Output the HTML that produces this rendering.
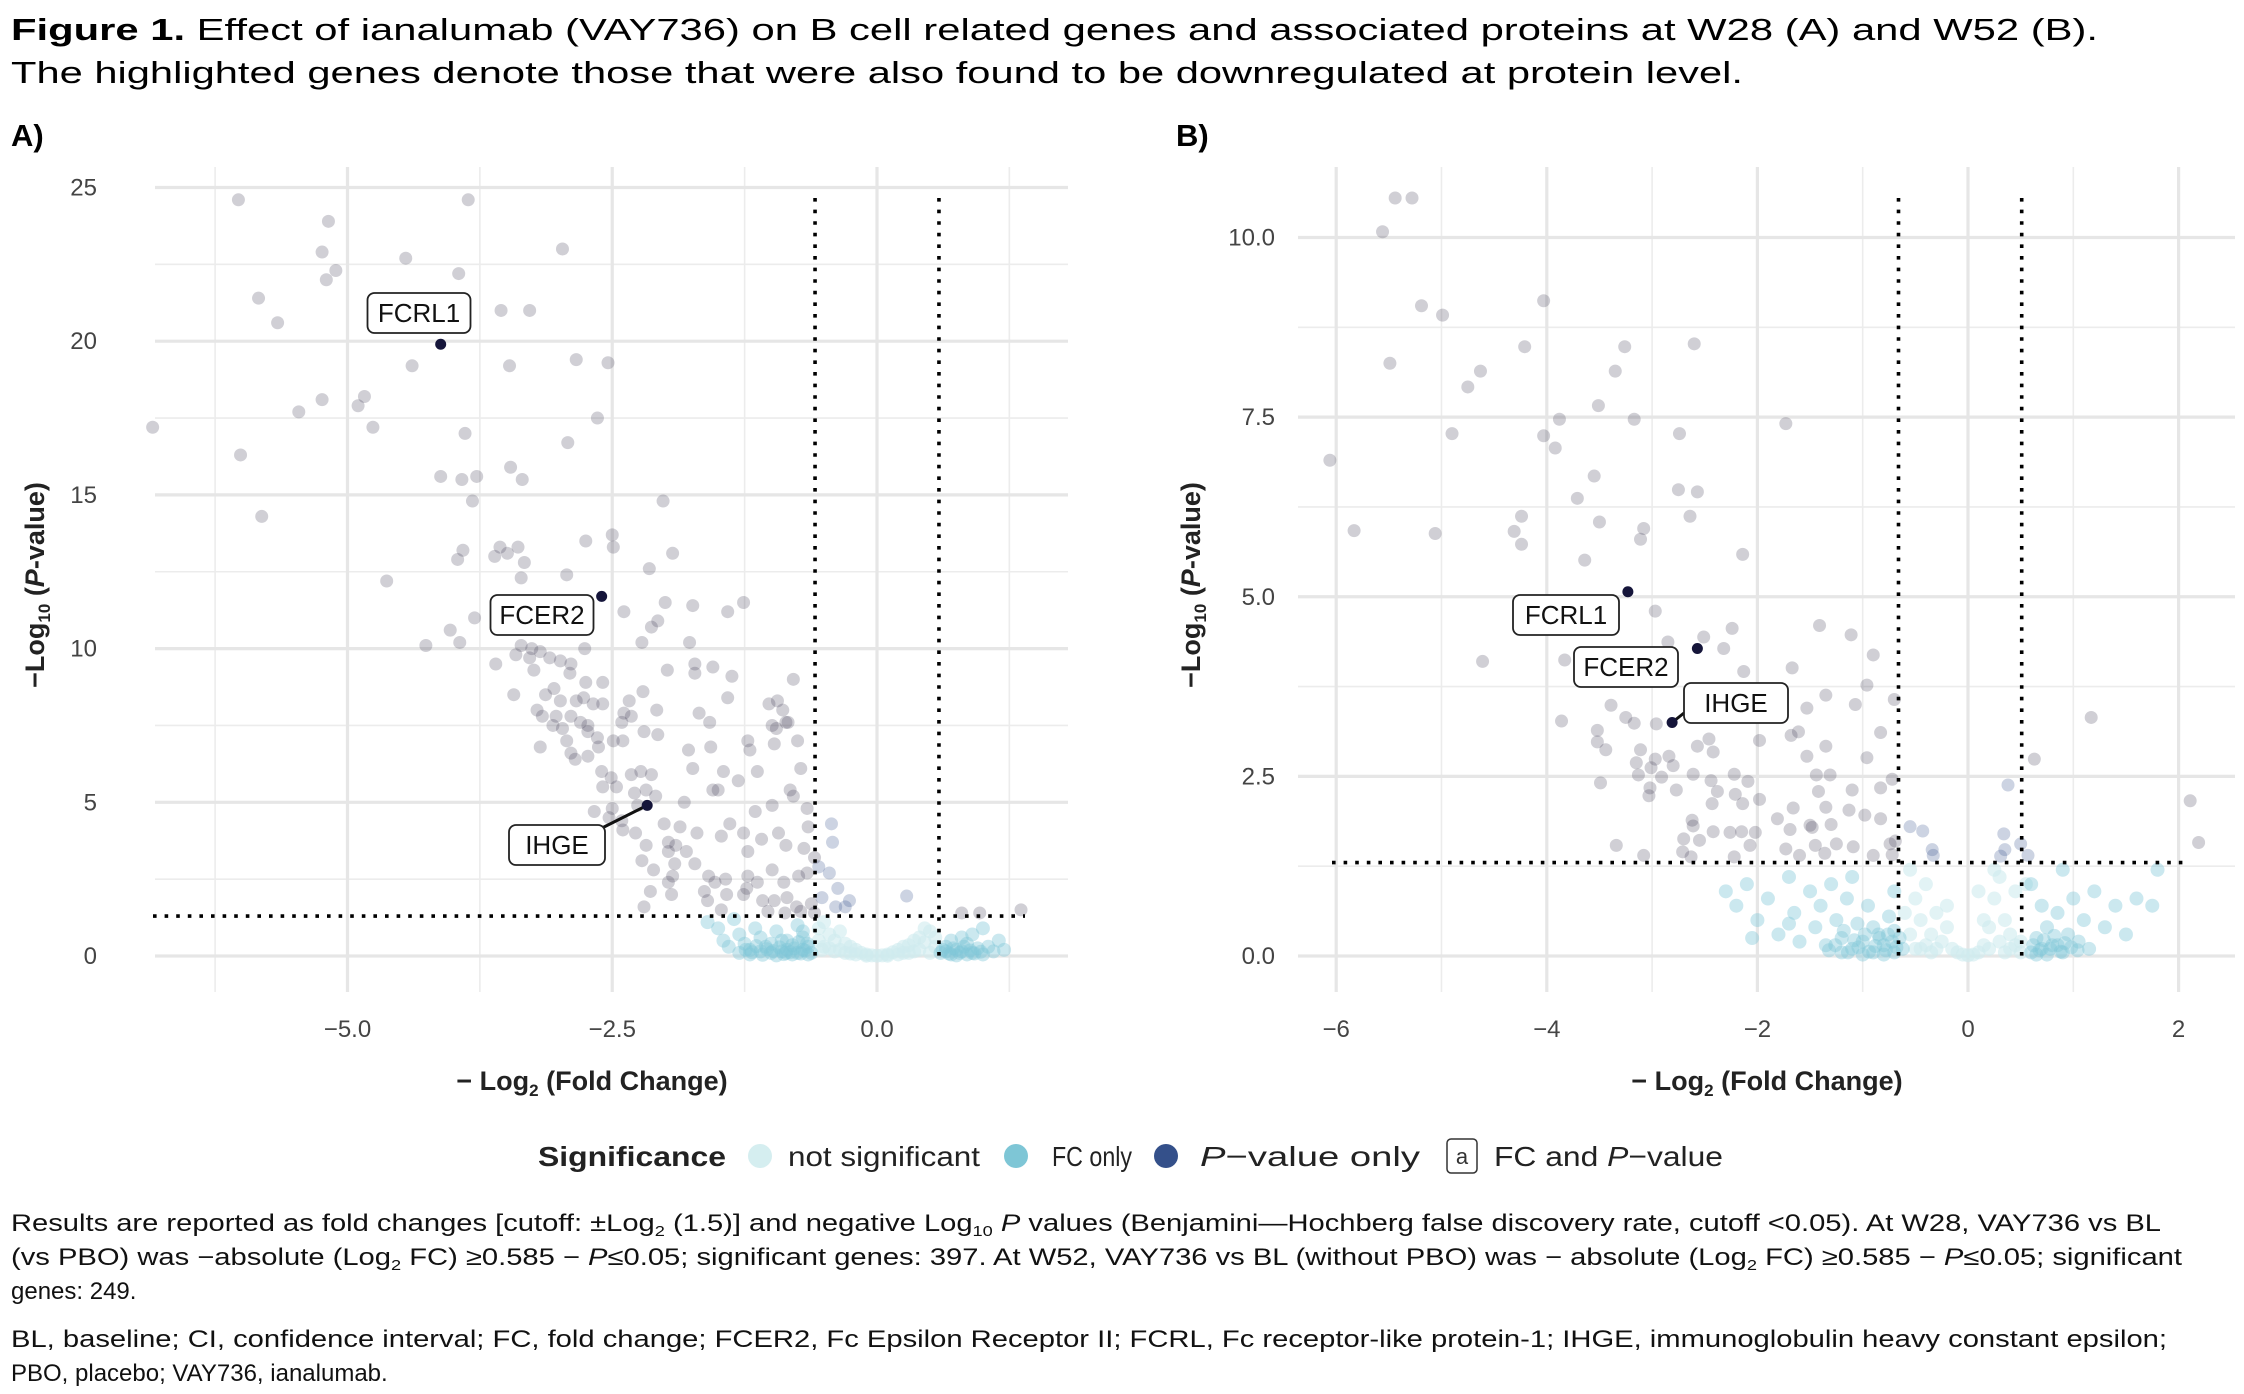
<!DOCTYPE html>
<html><head><meta charset="utf-8"><style>
html,body{margin:0;padding:0;background:#fff;}
svg{display:block;font-family:"Liberation Sans",Arial,sans-serif;}
</style></head><body>
<svg id="fig" width="2244" height="1394" viewBox="0 0 2244 1394" xmlns="http://www.w3.org/2000/svg">
<g>
<text x="11" y="40" font-size="31" textLength="2087" lengthAdjust="spacingAndGlyphs"><tspan font-weight="bold">Figure 1.</tspan> Effect of ianalumab (VAY736) on B cell related genes and associated proteins at W28 (A) and W52 (B).</text>
<text x="11" y="83" font-size="31" textLength="1732" lengthAdjust="spacingAndGlyphs">The highlighted genes denote those that were also found to be downregulated at protein level.</text>
</g>
<text x="11" y="146" font-size="31" font-weight="bold">A)</text>
<text x="1176" y="146" font-size="31" font-weight="bold">B)</text>
<g id="panelA"></g>
<g id="panelB"></g>
<g>
<text x="538" y="1166" font-size="28" font-weight="bold" fill="#222" textLength="188" lengthAdjust="spacingAndGlyphs">Significance</text>
<circle cx="760" cy="1156" r="12" fill="#d5eef0"/>
<text x="788" y="1166" font-size="28" fill="#222" textLength="192" lengthAdjust="spacingAndGlyphs">not significant</text>
<circle cx="1016" cy="1156" r="12" fill="#7ec6d6"/>
<text x="1052" y="1166" font-size="28" fill="#222" textLength="80" lengthAdjust="spacingAndGlyphs">FC only</text>
<circle cx="1166" cy="1156" r="12" fill="#34508a"/>
<text x="1200" y="1166" font-size="28" fill="#222" textLength="220" lengthAdjust="spacingAndGlyphs"><tspan font-style="italic">P</tspan>−value only</text>
<rect x="1447" y="1139" width="30" height="34" rx="4" fill="#fff" stroke="#333" stroke-width="1.5"/>
<text x="1462" y="1164" font-size="22" text-anchor="middle" fill="#333">a</text>
<text x="1494" y="1166" font-size="28" fill="#222" textLength="229" lengthAdjust="spacingAndGlyphs">FC and <tspan font-style="italic">P</tspan>−value</text>
</g>
<g font-size="24" fill="#111">
<text x="11" y="1231" textLength="2150" lengthAdjust="spacingAndGlyphs">Results are reported as fold changes [cutoff: ±Log<tspan font-size="15" dy="5">2</tspan><tspan dy="-5"> (1.5)] and negative Log</tspan><tspan font-size="15" dy="5">10</tspan><tspan dy="-5"> </tspan><tspan font-style="italic">P</tspan> values (Benjamini—Hochberg false discovery rate, cutoff &lt;0.05). At W28, VAY736 vs BL</text>
<text x="11" y="1265" textLength="2171" lengthAdjust="spacingAndGlyphs">(vs PBO) was −absolute (Log<tspan font-size="15" dy="5">2</tspan><tspan dy="-5"> FC) ≥0.585 − </tspan><tspan font-style="italic">P</tspan>≤0.05; significant genes: 397. At W52, VAY736 vs BL (without PBO) was − absolute (Log<tspan font-size="15" dy="5">2</tspan><tspan dy="-5"> FC) ≥0.585 − </tspan><tspan font-style="italic">P</tspan>≤0.05; significant</text>
<text x="11" y="1299">genes: 249.</text>
<text x="11" y="1347" textLength="2156" lengthAdjust="spacingAndGlyphs">BL, baseline; CI, confidence interval; FC, fold change; FCER2, Fc Epsilon Receptor II; FCRL, Fc receptor-like protein-1; IHGE, immunoglobulin heavy constant epsilon;</text>
<text x="11" y="1381">PBO, placebo; VAY736, ianalumab.</text>
</g>
</svg>
<script>
// ---------- Panel A data (W28) ----------
const aSigX = [-6.03,-3.86,-5.18,-5.24,-4.45,-2.97,-5.11,-5.20,-3.95,-5.84,-3.55,-3.28,-5.66,-2.84,-2.54,-4.39,-3.47,-5.24,-4.84,-4.90,-5.46,-6.84,-4.76,-2.64,-3.89,-2.92,-6.01,-4.12,-3.78,-3.92,-3.46,-3.35,-3.82,-2.02,-5.81,-2.50,-2.75,-3.56,-3.91,-3.39,-2.49,-3.49,-3.61,-1.93,-3.96,-3.33,-2.15,-2.93,-3.36,-4.63,-1.74,-2.39,-2.00,-1.26,-1.41,-4.03,-2.07,-2.13,-3.80,-1.77,-3.94,-4.26,-2.76,-2.22,-3.36,-3.26,-3.18,-3.41,-3.28,-3.09,-2.99,-2.89,-3.60,-1.72,-1.55,-1.98,-0.79,-1.37,-1.72,-3.24,-2.90,-2.75,-2.59,-3.05,-3.13,-2.21,-2.34,-2.32,-3.43,-2.99,-2.84,-2.77,-2.68,-2.59,-1.41,-1.02,-0.94,-0.89,-0.84,-3.21,-3.03,-2.89,-2.80,-2.73,-1.68,-2.08,-2.39,-2.41,-2.40,-3.06,-3.16,-2.97,-2.73,-2.64,-2.20,-2.07,-1.58,-0.99,-0.95,-0.86,-2.49,-2.63,-3.18,-2.93,-2.89,-2.85,-2.73,-1.78,-1.57,-1.22,-1.20,-0.97,-0.75,-0.72,-1.13,-1.45,-1.31,-2.32,-2.23,-2.13,-2.60,-2.51,-2.59,-2.46,-2.29,-2.09,-2.18,-1.74,-1.55,-1.50,-0.82,-0.79,-1.15,-0.99,-0.66,-0.65,-2.67,-2.50,-2.53,-2.41,-2.26,-1.82,-2.01,-1.86,-2.40,-2.28,-1.97,-1.90,-1.70,-2.18,-1.97,-1.80,-1.47,-1.39,-1.26,-1.22,-1.09,-0.93,-0.86,-0.69,-0.59,-2.22,-2.11,-1.97,-1.93,-1.91,-1.72,-1.59,-1.53,-1.63,-1.43,-1.22,-1.13,-0.99,-0.88,-0.74,-0.66,-2.14,-1.94,-1.60,-1.42,-1.26,-1.23,-1.08,-0.97,-0.85,-0.76,-0.62,-2.20,-1.47,-1.03,-0.87,-0.72,-0.59,0.80,0.97,1.36];
const aSigY = [24.6,24.6,23.9,22.9,22.7,23.0,22.3,22.0,22.2,21.4,21.0,21.0,20.6,19.4,19.3,19.2,19.2,18.1,18.2,17.9,17.7,17.2,17.2,17.5,17.0,16.7,16.3,15.6,15.6,15.5,15.9,15.5,14.8,14.8,14.3,13.7,13.5,13.3,13.2,13.3,13.3,13.1,13.0,13.1,12.9,12.8,12.6,12.4,12.3,12.2,11.4,11.2,11.5,11.5,11.2,10.6,10.9,10.7,11.0,10.2,10.2,10.1,10.0,10.2,10.1,10.0,9.9,9.8,9.7,9.7,9.6,9.5,9.5,9.5,9.4,9.3,9.0,9.1,9.2,9.3,9.2,8.9,8.9,8.7,8.5,8.6,8.3,7.8,8.5,8.3,8.3,8.4,8.2,8.2,8.4,8.2,8.3,8.0,7.6,8.0,7.8,7.8,7.6,7.5,7.9,8.0,7.9,7.6,7.0,7.5,7.8,7.4,7.3,7.1,7.3,7.2,7.6,7.5,7.4,7.6,7.0,6.8,6.8,7.0,6.6,6.4,6.5,6.7,6.8,7.0,6.7,6.9,7.0,6.1,6.0,6.0,5.7,5.9,6.0,5.9,6.0,5.8,5.5,5.5,5.3,5.2,5.4,6.1,5.4,5.4,5.4,5.2,4.7,4.9,4.8,4.2,4.7,4.8,4.5,4.4,4.9,5.0,4.3,4.2,4.1,4.0,3.7,3.6,4.0,3.6,3.4,3.4,3.9,4.3,4.0,3.4,3.8,4.0,3.6,3.5,3.2,3.1,2.8,2.4,2.6,3.0,3.0,2.6,2.4,2.1,2.5,2.6,2.4,2.8,2.4,2.6,2.7,2.1,2.0,1.8,2.0,2.0,2.2,1.8,1.8,1.9,1.6,1.7,1.6,1.5,1.45,1.4,1.45,1.4,1.4,1.4,1.5];
const aPvX = [-0.43,-0.42,-0.55,-0.45,-0.37,-0.26,-0.52,-0.39,-0.30,0.28];
const aPvY = [4.3,3.7,2.9,2.7,2.2,1.8,1.9,1.6,1.6,1.95];
const aNsX = [-0.55,-0.5,-0.45,-0.4,-0.35,-0.3,-0.25,-0.2,-0.15,-0.1,-0.05,0,0.05,0.1,0.15,0.2,0.25,0.3,0.35,0.4,0.45,0.5,0.55,-0.5,-0.4,-0.3,0.3,0.4,0.5,-0.55,-0.52,0.2,-0.2,0.45,-0.35,0.35,-0.45,-0.25,0.25,0.55,-0.1,0.1];
const aNsY = [0.9,1.1,0.7,0.5,0.8,0.4,0.3,0.2,0.1,0.05,0.02,0.01,0.02,0.05,0.12,0.2,0.3,0.35,0.5,0.6,0.45,0.8,0.3,0.3,0.15,0.1,0.1,0.2,0.1,0.5,0.2,0.05,0.05,0.9,0.2,0.15,0.25,0.08,0.1,0.6,0.01,0.01];
const aFcX = [-1.6,-1.5,-1.45,-1.4,-1.35,-1.3,-1.25,-1.2,-1.15,-1.1,-1.05,-1.0,-0.95,-0.9,-0.85,-0.8,-0.75,-0.7,-0.65,-0.62,-1.2,-1.0,-0.9,-0.8,-0.7,-0.65,-1.1,-0.75,-1.3,-0.95,-0.85,-0.7,-0.68,-0.72,-0.78,-0.82,-0.88,-0.92,-0.98,-1.04,-1.08,-1.14,-1.18,-1.24,-0.66,-0.74,-0.86,0.6,0.65,0.7,0.75,0.8,0.85,0.9,0.95,1.0,1.05,1.1,1.15,0.7,0.8,0.9,1.0,1.2,0.65,0.75,0.85,0.62,0.68,0.72,0.78,0.82,0.88,0.92,0.98];
const aFcY = [1.1,0.9,0.5,0.3,1.2,0.7,0.4,0.2,0.9,0.6,0.3,0.1,0.8,0.5,0.2,0.05,1.0,0.6,0.3,0.1,0.05,0.4,0.15,0.35,0.2,0.05,0.15,0.1,0.1,0.02,0.5,0.8,0.18,0.08,0.25,0.12,0.06,0.28,0.16,0.22,0.04,0.32,0.12,0.2,0.4,0.45,0.1,0.1,0.3,0.05,0.2,0.15,0.4,0.1,0.25,0.05,0.3,0.15,0.5,0.5,0.6,0.7,0.9,0.2,0.15,0.02,0.05,0.2,0.08,0.25,0.1,0.3,0.18,0.08,0.14];
const aHiNames = ["FCRL1","FCER2","IHGE"];
const aHiX = [-4.12,-2.60,-2.17];
const aHiY = [19.9,11.7,4.9];
const aXTicks = [-5.0,-2.5,0.0];
const aXTickLabels = ["−5.0","−2.5","0.0"];
const aYTicks = [0,5,10,15,20,25];
const aYTickLabels = ["0","5","10","15","20","25"];

// ---------- Panel B data (W52) ----------
const bSigX = [-5.44,-5.28,-5.56,-5.19,-4.99,-4.03,-5.49,-4.21,-3.26,-2.60,-3.35,-4.63,-4.75,-3.51,-3.88,-3.17,-1.73,-4.90,-4.03,-2.74,-3.92,-6.06,-3.55,-3.71,-2.75,-2.57,-2.64,-4.24,-3.50,-5.83,-4.31,-5.06,-3.08,-3.11,-4.24,-2.14,-3.64,-2.97,-1.41,-2.24,-2.51,-1.11,-2.85,-2.32,-0.90,-4.61,-3.83,-1.67,-2.13,-0.96,-1.35,-0.70,-1.07,-1.53,-3.39,-3.25,1.17,-3.86,-3.17,-2.96,-1.61,-3.52,-0.83,-1.68,-2.46,-1.98,-3.52,-1.35,-3.44,-3.11,-2.57,-2.42,-1.53,0.63,-0.96,-2.97,-2.84,-3.15,-3.01,-2.80,-3.13,-2.91,-2.61,-1.44,-1.31,-2.22,-2.09,-2.44,-0.72,-3.49,-3.02,-2.77,-2.38,-0.83,-1.10,-1.42,-2.21,-3.03,-1.98,2.11,-2.43,-2.14,-1.66,-1.35,-1.13,-0.98,-0.83,-1.81,-1.50,-1.48,-1.30,-2.62,-2.61,-2.42,-2.26,-2.15,-2.02,-1.69,-0.69,2.19,-0.74,-2.70,-2.55,-3.34,-2.07,-1.73,-1.45,-1.25,-1.09,-3.08,-2.71,-2.63,-2.22,-1.60,-1.36,-0.72,-0.90];
const bSigY = [10.55,10.55,10.08,9.05,8.92,9.12,8.25,8.48,8.48,8.52,8.14,8.14,7.92,7.66,7.47,7.47,7.41,7.27,7.24,7.27,7.07,6.90,6.68,6.37,6.49,6.46,6.12,6.12,6.04,5.92,5.91,5.88,5.95,5.80,5.73,5.59,5.51,4.80,4.60,4.56,4.44,4.47,4.37,4.28,4.19,4.10,4.12,4.01,3.96,3.77,3.63,3.57,3.50,3.45,3.49,3.32,3.32,3.27,3.24,3.23,3.12,3.14,3.11,3.07,3.02,3.00,2.98,2.92,2.87,2.87,2.92,2.84,2.78,2.74,2.76,2.74,2.78,2.69,2.62,2.65,2.52,2.49,2.53,2.52,2.52,2.53,2.43,2.44,2.46,2.41,2.34,2.31,2.29,2.34,2.31,2.29,2.25,2.23,2.18,2.16,2.12,2.12,2.06,2.07,2.03,1.96,1.91,1.91,1.82,1.79,1.83,1.89,1.81,1.73,1.72,1.73,1.72,1.76,1.60,1.58,1.56,1.63,1.61,1.54,1.54,1.49,1.54,1.56,1.52,1.40,1.45,1.38,1.38,1.40,1.43,1.41,1.40];
const bPvX = [-0.55,-0.43,0.34,0.50,-0.34,-0.33,0.35,0.31,0.57,0.38];
const bPvY = [1.80,1.74,1.70,1.56,1.48,1.40,1.48,1.39,1.40,2.38];
const bNsX = [-0.55,-0.5,-0.45,-0.4,-0.35,-0.3,-0.25,-0.2,-0.15,-0.1,0,0.1,0.15,0.2,0.25,0.3,0.35,0.4,0.45,0.5,0.55,-0.55,-0.5,0.5,0.4,-0.4,0.3,-0.3,0.2,0.05,-0.05,0.15,-0.2,0.1,0.25,-0.6,-0.45,0.45,-0.35,0.35];
const bNsY = [1.2,0.8,0.5,1.0,0.3,0.6,0.2,0.4,0.1,0.05,0.01,0.05,0.15,0.4,0.8,1.1,0.5,0.3,0.9,0.2,1.0,0.3,0.1,0.05,0.1,0.15,0.2,0.1,0.1,0.02,0.02,0.5,0.7,0.9,1.2,0.6,0.1,0.15,0.05,0.05];
const bFcX = [-2.3,-2.2,-2.1,-2.0,-1.9,-1.8,-1.7,-1.65,-1.6,-1.5,-1.45,-1.4,-1.35,-1.3,-1.25,-1.2,-1.15,-1.1,-1.05,-1.0,-0.95,-0.9,-0.85,-0.8,-0.75,-0.7,-0.65,-0.62,-1.0,-0.8,-1.2,-0.9,-0.7,-1.1,-1.7,-2.05,-0.68,-0.72,-0.78,-0.84,-0.88,-0.94,-0.98,-1.04,-1.08,-1.14,-1.18,-1.26,-1.32,-0.7,-0.76,0.6,0.65,0.7,0.75,0.8,0.85,0.9,0.95,1.0,1.05,1.1,1.15,1.2,1.3,1.4,1.5,1.6,1.75,1.8,0.7,0.6,0.9,0.65,0.75,0.85,0.62,0.68,0.72,0.78,0.82,0.88,0.92,0.98,1.04];
const bFcY = [0.9,0.7,1.0,0.5,0.8,0.3,1.1,0.6,0.2,0.9,0.4,0.7,0.15,1.0,0.5,0.25,0.8,0.1,0.45,0.2,0.7,0.05,0.3,0.15,0.55,0.05,0.25,0.1,0.02,0.02,0.05,0.4,0.9,1.1,0.45,0.25,0.12,0.2,0.08,0.25,0.14,0.06,0.3,0.12,0.22,0.05,0.35,0.15,0.08,0.35,0.3,0.05,0.25,0.1,0.4,0.15,0.6,0.05,0.3,0.8,0.2,0.5,0.1,0.9,0.4,0.7,0.3,0.8,0.7,1.2,0.7,1.0,1.2,0.02,0.02,0.15,0.15,0.08,0.22,0.1,0.28,0.06,0.18,0.12,0.08];
const bHiNames = ["FCRL1","FCER2","IHGE"];
const bHiX = [-3.23,-2.57,-2.81];
const bHiY = [5.07,4.28,3.25];
const bXTicks = [-6,-4,-2,0,2];
const bXTickLabels = ["−6","−4","−2","0","2"];
const bYTicks = [0,2.5,5,7.5,10];
const bYTickLabels = ["0.0","2.5","5.0","7.5","10.0"];

const NS = "http://www.w3.org/2000/svg";
function mk(tag, attrs, parent){
  const e = document.createElementNS(NS, tag);
  for (const k in attrs) e.setAttribute(k, attrs[k]);
  parent.appendChild(e);
  return e;
}

function drawPanel(g, cfg, d){
  const sx = v => cfg.x0 + v * cfg.xu;
  const sy = v => cfg.y0 - v * cfg.yu;
  const grid = mk('g', {}, g);
  
  
  d.xMinor.forEach(v => mk('line', {x1:sx(v), x2:sx(v), y1:cfg.top, y2:cfg.bottom, stroke:'#ececec', 'stroke-width':1.6}, grid));
  d.yMinor.forEach(v => mk('line', {x1:cfg.left, x2:cfg.right, y1:sy(v), y2:sy(v), stroke:'#ececec', 'stroke-width':1.6}, grid));
  d.xTicks.forEach(v => mk('line', {x1:sx(v), x2:sx(v), y1:cfg.top, y2:cfg.bottom, stroke:'#e6e6e6', 'stroke-width':3.2}, grid));
  d.yTicks.forEach(v => mk('line', {x1:cfg.left, x2:cfg.right, y1:sy(v), y2:sy(v), stroke:'#e6e6e6', 'stroke-width':3.2}, grid));
  d.xTicks.forEach((v,i) => {
    const t = mk('text', {x:sx(v), y:1037, 'font-size':24, 'text-anchor':'middle', fill:'#444'}, g);
    t.textContent = d.xLabels[i];
    
    
  });
  d.yTicks.forEach((v,i) => {
    const t = mk('text', {x:cfg.ylabX, y:sy(v)+8, 'font-size':24, 'text-anchor':'end', fill:'#444'}, g);
    t.textContent = d.yLabels[i];
    
    
  });
  const pts = mk('g', {}, g);
  
  
  d.nsX.forEach((v,i) => {
    const c = mk('circle', {cx:sx(v), cy:sy(d.nsY[i]), r:7, fill:'#cfebee', 'fill-opacity':0.6}, pts);
    
    
  });
  d.fcX.forEach((v,i) => {
    const c = mk('circle', {cx:sx(v), cy:sy(d.fcY[i]), r:7, fill:'#7ec6d6', 'fill-opacity':0.4}, pts);
    
    
  });
  d.pvX.forEach((v,i) => {
    const c = mk('circle', {cx:sx(v), cy:sy(d.pvY[i]), r:6.5, fill:'#34508a', 'fill-opacity':0.25}, pts);
    
    
  });
  d.sigX.forEach((v,i) => {
    const c = mk('circle', {cx:sx(v), cy:sy(d.sigY[i]), r:6.5, fill:'#3a3550', 'fill-opacity':0.24}, pts);
    
    
  });
  const cut = mk('g', {stroke:'#000', 'stroke-width':3.6, 'stroke-dasharray':'3.6 8'}, g);
  
  
  cfg.vCuts.forEach(v => mk('line', {x1:sx(v), x2:sx(v), y1:cfg.vTop, y2:sy(0)}, cut));
  mk('line', {x1:cfg.hLeft, x2:cfg.hRight, y1:sy(1.3), y2:sy(1.3)}, cut);
  d.hiNames.forEach((name,i) => {
    const px = sx(d.hiX[i]), py = sy(d.hiY[i]);
    const b = cfg.boxes[i];
    const grp = mk('g', {}, g);
    
    
    if (b.line) mk('line', {x1:b.lx, y1:b.ly, x2:px, y2:py, stroke:'#111', 'stroke-width':3}, grp);
    mk('rect', {x:b.cx - b.w/2, y:b.cy - 20, width:b.w, height:40, rx:7, fill:'#fff', stroke:'#222', 'stroke-width':1.8}, grp);
    const t = mk('text', {x:b.cx, y:b.cy + 9, 'font-size':26, 'text-anchor':'middle', fill:'#111'}, grp);
    t.textContent = name;
    const c = mk('circle', {cx:px, cy:py, r:5.5, fill:'#15153a'}, grp);
    
    
  });
  const xt = mk('text', {x:cfg.xTitleX, y:1090, 'font-size':27, 'font-weight':'bold', 'text-anchor':'middle', fill:'#222'}, g);
  xt.innerHTML = '− Log<tspan font-size="17" dy="6">2</tspan><tspan dy="-6"> (Fold Change)</tspan>';
  
  
  const yt = mk('text', {x:0, y:0, 'font-size':27, 'font-weight':'bold', 'text-anchor':'middle', fill:'#222', transform:'translate(' + cfg.yTitleX + ',585) rotate(-90)'}, g);
  yt.innerHTML = '−Log<tspan font-size="17" dy="6">10</tspan><tspan dy="-6"> (</tspan><tspan font-style="italic">P</tspan>-value)';
  
  
}

drawPanel(document.getElementById('panelA'),
  {x0:877, xu:105.9, y0:956, yu:30.74, left:155, right:1068, top:167, bottom:992, ylabX:97,
   vTop:198, hLeft:153, hRight:1025, xTitleX:592, yTitleX:44, vCuts:[-0.585,0.585],
   boxes:[{cx:419,cy:313,w:103},{cx:542,cy:615,w:103},{cx:557,cy:845,w:96,line:true,lx:602,ly:828}]},
  {sigX:aSigX, sigY:aSigY, pvX:aPvX, pvY:aPvY, nsX:aNsX, nsY:aNsY, fcX:aFcX, fcY:aFcY,
   hiNames:aHiNames, hiX:aHiX, hiY:aHiY, xTicks:aXTicks, xLabels:aXTickLabels, yTicks:aYTicks, yLabels:aYTickLabels,
   xMinor:[-6.25,-3.75,-1.25,1.25], yMinor:[2.5,7.5,12.5,17.5,22.5]});

drawPanel(document.getElementById('panelB'),
  {x0:1968, xu:105.3, y0:956, yu:71.85, left:1298, right:2235, top:167, bottom:992, ylabX:1275,
   vTop:198, hLeft:1332, hRight:2189, xTitleX:1767, yTitleX:1200, vCuts:[-0.66,0.51],
   boxes:[{cx:1566,cy:615,w:106},{cx:1626,cy:667,w:104},{cx:1736,cy:703,w:104,line:true,lx:1684,ly:713}]},
  {sigX:bSigX, sigY:bSigY, pvX:bPvX, pvY:bPvY, nsX:bNsX, nsY:bNsY, fcX:bFcX, fcY:bFcY,
   hiNames:bHiNames, hiX:bHiX, hiY:bHiY, xTicks:bXTicks, xLabels:bXTickLabels, yTicks:bYTicks, yLabels:bYTickLabels,
   xMinor:[-5,-3,-1,1], yMinor:[1.25,3.75,6.25,8.75]});
</script>
</body></html>
